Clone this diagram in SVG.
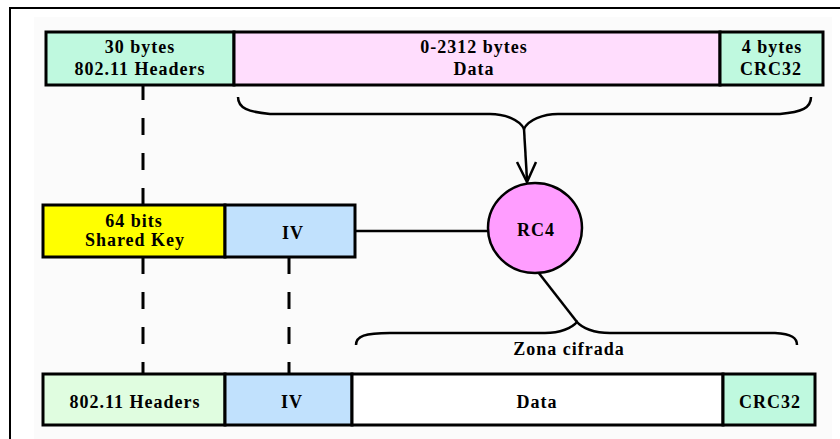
<svg xmlns="http://www.w3.org/2000/svg" width="840" height="439" viewBox="0 0 840 439">
<style>
.box{stroke:#000;stroke-width:3}
.t{font-family:'Liberation Serif','Times New Roman','DejaVu Serif',serif;font-weight:700;font-size:18px;letter-spacing:1px;fill:#000;text-anchor:middle}
.ln{fill:none;stroke:#000;stroke-width:2.5}
.dash{fill:none;stroke:#000;stroke-width:3;stroke-dasharray:17 18}
</style>
<rect x="0" y="0" width="840" height="439" fill="#fff"/>
<rect x="34" y="17" width="798" height="422" fill="#fbfbfb"/>
<path d="M10,439 V8 H840" fill="none" stroke="#000" stroke-width="2"/>

<g id="connectors">
<path class="dash" d="M143,205 V86"/>
<path class="dash" d="M143,257 V374"/>
<path class="dash" d="M289,257 V374"/>
<path class="ln" d="M238,97 C238,108 248,112 270,114 H490 C505,114 520,120 524,129 C528,120 543,114 558,114 H780 C802,112 811,108 811,97"/>
<path class="ln" d="M524,129 L527,180"/>
<path d="M517,162 L527,182 L536,162" fill="none" stroke="#000" stroke-width="2.5"/>
<path class="ln" d="M355,231 H489"/>
<path class="ln" d="M538,272 L577,322"/>
<path class="ln" d="M356,345 C356,336 365,333 390,333 H545 C560,333 572,328 577,322 C582,328 594,333 610,333 H775 C792,334 797,338 797,345"/>
</g>

<g id="top-header"><rect class="box" x="46" y="32" width="188" height="53" fill="#bff9df"/>
<text class="t" x="140" y="53">30 bytes</text><text class="t" x="140" y="75" letter-spacing="1.5">802.11 Headers</text></g>
<g id="top-data"><rect class="box" x="234" y="32" width="486" height="53" fill="#ffddfd"/>
<text class="t" x="474" y="53" letter-spacing="1.3">0-2312 bytes</text><text class="t" x="474" y="75">Data</text></g>
<g id="top-crc"><rect class="box" x="720" y="32" width="103" height="53" fill="#bff9df"/>
<text class="t" x="772" y="53" font-size="20" letter-spacing="2.5">4 bytes</text><text class="t" x="771" y="75" letter-spacing="2.5">CRC32</text></g>

<g id="shared-key"><rect class="box" x="43" y="205" width="182" height="52" fill="#ffff00"/>
<text class="t" x="134" y="227" letter-spacing="1.3">64 bits</text><text class="t" x="135" y="246">Shared Key</text></g>
<g id="iv-key"><rect class="box" x="225" y="205" width="130" height="52" fill="#c1e1fd"/>
<text class="t" x="293" y="239" letter-spacing="7">IV</text></g>

<g id="rc4"><ellipse cx="535" cy="228" rx="47" ry="45" fill="#ff9dff" stroke="#000" stroke-width="2.5"/>
<text class="t" x="536" y="236" letter-spacing="3.5">RC4</text></g>

<g id="zona"><text class="t" x="569" y="355" letter-spacing="2.2">Zona cifrada</text></g>

<g id="bot-header"><rect class="box" x="43" y="374" width="182" height="51" fill="#e0fde0"/>
<text class="t" x="135" y="408" letter-spacing="2.6">802.11 Headers</text></g>
<g id="bot-iv"><rect class="box" x="225" y="374" width="127" height="51" fill="#c1e1fd"/>
<text class="t" x="292" y="408" letter-spacing="7">IV</text></g>
<g id="bot-data"><rect class="box" x="352" y="374" width="371" height="51" fill="#fff"/>
<text class="t" x="537" y="408" letter-spacing="2.5">Data</text></g>
<g id="bot-crc"><rect class="box" x="723" y="374" width="92" height="51" fill="#bff9df"/>
<text class="t" x="770" y="408" letter-spacing="2.5">CRC32</text></g>
</svg>
